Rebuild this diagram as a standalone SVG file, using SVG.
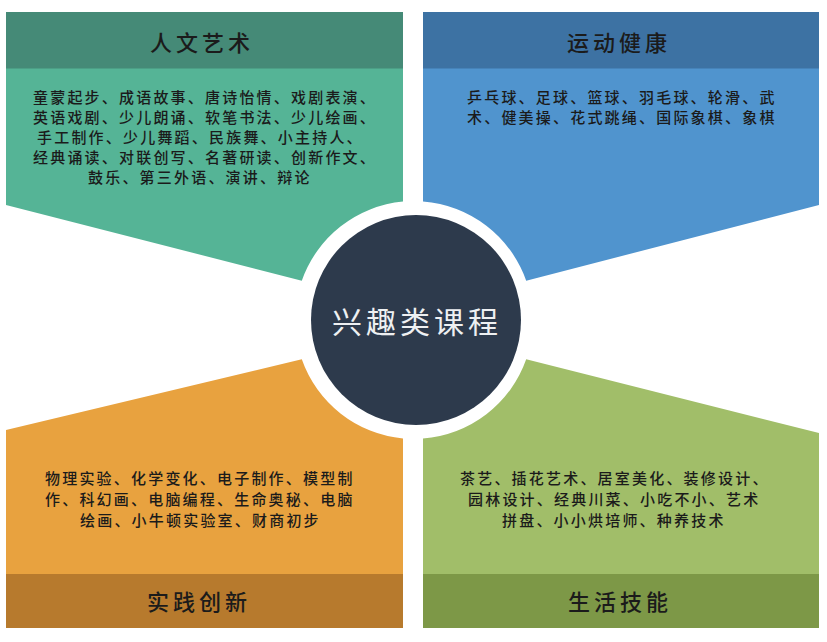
<svg xmlns="http://www.w3.org/2000/svg" width="827" height="642" viewBox="0 0 827 642">
<style>
.body{font-family:"Noto Sans CJK SC","Noto Sans",sans-serif;font-size:15px;letter-spacing:2.2px;fill:#1b1b1b;font-weight:500}
.title{font-family:"Noto Sans CJK SC","Noto Sans",sans-serif;font-size:22px;letter-spacing:4px;fill:#1b1b1b;font-weight:500}
.center{font-family:"Noto Sans CJK SC","Noto Sans",sans-serif;font-size:30px;letter-spacing:4px;fill:#eef0f2;font-weight:400}
</style>
<rect width="827" height="642" fill="#ffffff"/>
<g id="connectors"/>
<g id="node-renwen">
  <path d="M6,12 H403 V201.5 A119,119 0 0 0 301.8,280.7 L6,205 Z" fill="#55b496"/>
  <rect x="6" y="12" width="397" height="56.5" fill="#458a77"/>
  <text class="title" x="150" y="51">人文艺术</text>
  <text class="body" x="33" y="103">童蒙起步、成语故事、唐诗怡情、戏剧表演、</text>
  <text class="body" x="33" y="123">英语戏剧、少儿朗诵、软笔书法、少儿绘画、</text>
  <text class="body" x="37" y="143">手工制作、少儿舞蹈、民族舞、小主持人、</text>
  <text class="body" x="33" y="163">经典诵读、对联创写、名著研读、创新作文、</text>
  <text class="body" x="88" y="183">鼓乐、第三外语、演讲、辩论</text>
</g>
<g id="node-yundong">
  <path d="M423,12 H819 V205 L526.2,280.7 A119,119 0 0 0 423,201.5 Z" fill="#5094ce"/>
  <rect x="423" y="12" width="396" height="56.5" fill="#3d72a3"/>
  <text class="title" x="567" y="51">运动健康</text>
  <text class="body" x="467" y="103">乒乓球、足球、篮球、羽毛球、轮滑、武</text>
  <text class="body" x="467" y="123">术、健美操、花式跳绳、国际象棋、象棋</text>
</g>
<g id="node-shijian">
  <path d="M6,430 L301.8,359.3 A119,119 0 0 0 403,438.5 V628 H6 Z" fill="#e8a23f"/>
  <rect x="6" y="574" width="397" height="54" fill="#b77a2d"/>
  <text class="title" x="147" y="610">实践创新</text>
  <text class="body" x="45" y="484">物理实验、化学变化、电子制作、模型制</text>
  <text class="body" x="45" y="505">作、科幻画、电脑编程、生命奥秘、电脑</text>
  <text class="body" x="80" y="526">绘画、小牛顿实验室、财商初步</text>
</g>
<g id="node-shenghuo">
  <path d="M423,438.5 A119,119 0 0 0 526.2,359.3 L819,433 V628 H423 Z" fill="#a1be69"/>
  <rect x="423" y="574" width="396" height="54" fill="#7d9847"/>
  <text class="title" x="568" y="610">生活技能</text>
  <text class="body" x="460" y="484">茶艺、插花艺术、居室美化、装修设计、</text>
  <text class="body" x="468" y="505">园林设计、经典川菜、小吃不小、艺术</text>
  <text class="body" x="502" y="526">拼盘、小小烘培师、种养技术</text>
</g>
<g id="node-center">
  <circle cx="416" cy="320" r="105" fill="#2d3a4c"/>
  <text class="center" x="332" y="333">兴趣类课程</text>
</g>
</svg>
